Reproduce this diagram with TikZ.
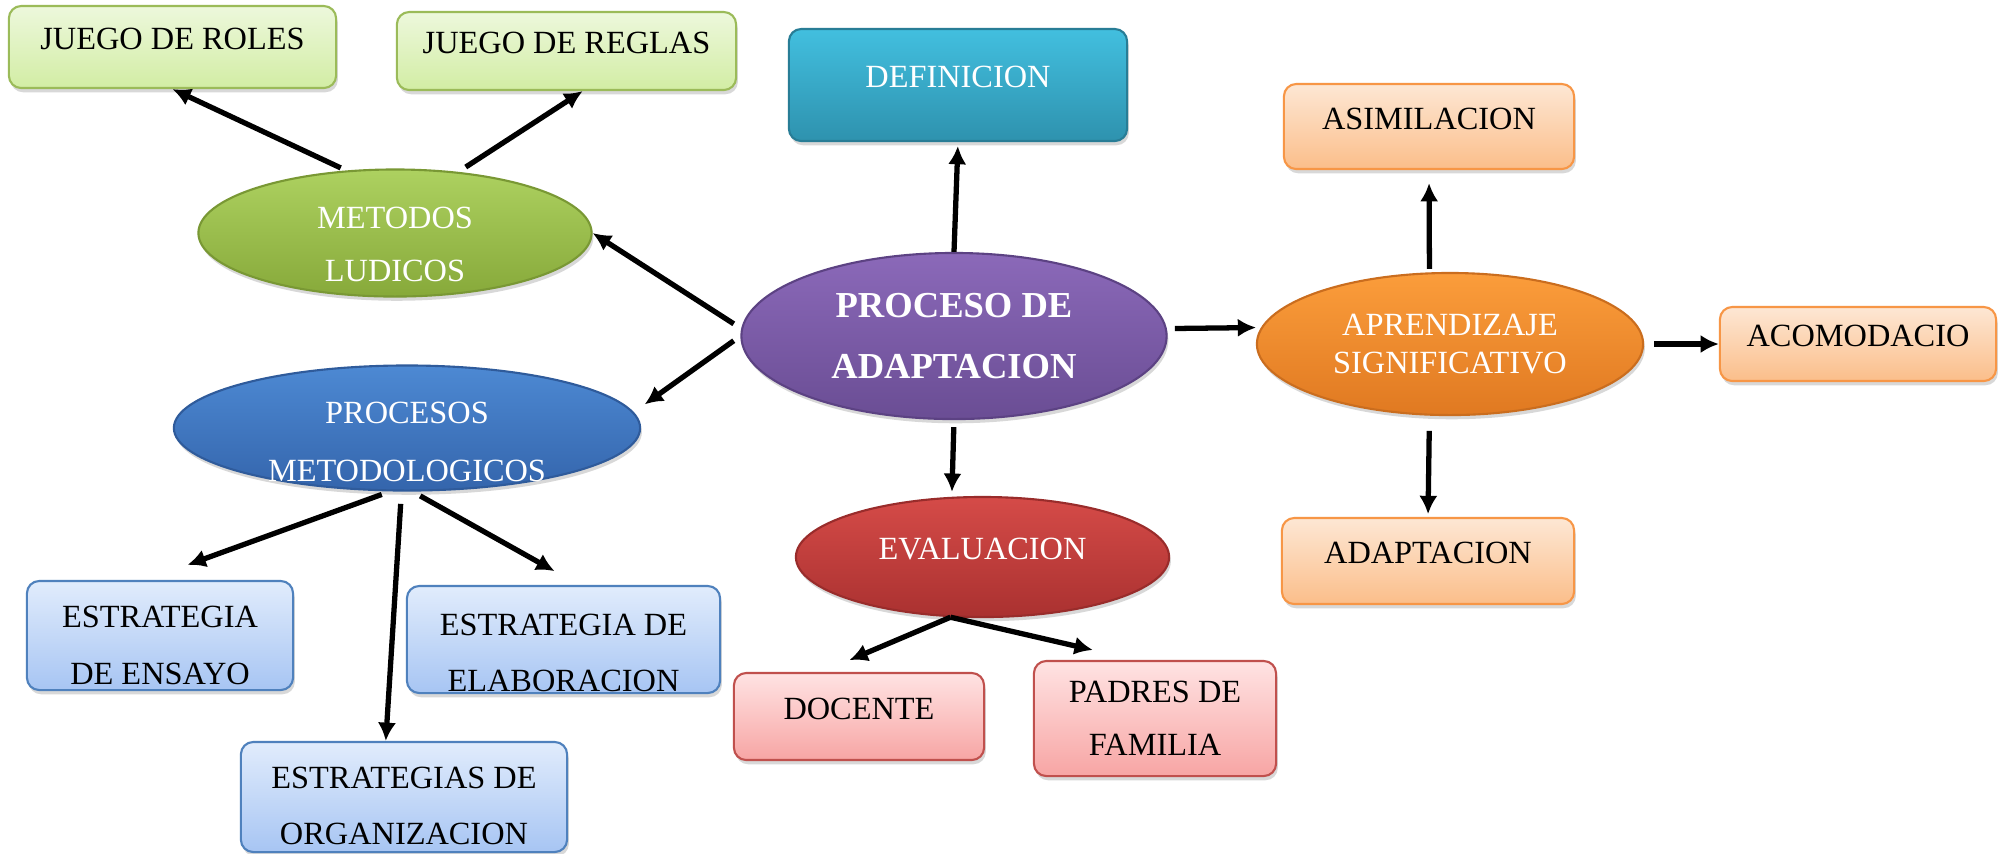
\documentclass[tikz,border=0pt]{standalone}
\usepackage{fontspec}
\setmainfont{Liberation Serif}
\usetikzlibrary{shapes.geometric,shadows,arrows.meta}

\definecolor{verdeA}{HTML}{EDF8DC}
\definecolor{verdeB}{HTML}{D2EDA4}
\definecolor{verdeC}{HTML}{9BBB59}
\definecolor{verdeE}{HTML}{ADD160}
\definecolor{verdeF}{HTML}{87A93A}
\definecolor{cianA}{HTML}{42BFDF}
\definecolor{cianB}{HTML}{2E92AE}
\definecolor{cianC}{HTML}{287D96}
\definecolor{moradoA}{HTML}{8B69B9}
\definecolor{moradoB}{HTML}{6A4D94}
\definecolor{moradoC}{HTML}{5C4283}
\definecolor{narA}{HTML}{FDE7D4}
\definecolor{narB}{HTML}{FBBE8A}
\definecolor{narC}{HTML}{F79646}
\definecolor{narE}{HTML}{FB9D3B}
\definecolor{narF}{HTML}{E07921}
\definecolor{azulA}{HTML}{E1ECFC}
\definecolor{azulB}{HTML}{A7C5F3}
\definecolor{azulC}{HTML}{4F81BD}
\definecolor{azulE}{HTML}{4D89D3}
\definecolor{azulF}{HTML}{3465AC}
\definecolor{rojoA}{HTML}{FFE3E3}
\definecolor{rojoB}{HTML}{F7A5A4}
\definecolor{rojoC}{HTML}{C0504D}
\definecolor{rojoE}{HTML}{D54B48}
\definecolor{rojoF}{HTML}{AA3130}

\begin{document}
\begin{tikzpicture}[x=0.01cm,y=-0.01cm,
  every node/.style={font=\fontsize{9.2}{16}\selectfont},
  caja/.style n args={3}{rectangle,rounded corners=3.5pt,draw=#3,line width=0.6pt,
    top color=#1,bottom color=#2,inner sep=0pt,align=center,
    drop shadow={opacity=0.3,shadow xshift=0.5pt,shadow yshift=-1.2pt}},
  elip/.style n args={3}{ellipse,draw=#3,line width=0.6pt,top color=#1,bottom color=#2,
    inner sep=0pt,align=center,text=white,
    drop shadow={opacity=0.3,shadow xshift=0.5pt,shadow yshift=-1.2pt}},
  una/.style={text height=6.5pt,text depth=5pt},
  flecha/.style={-{Latex[length=5.2pt,width=5.2pt]},line width=1.5pt}]
  \path[use as bounding box,fill=white] (0,0) rectangle (2006,853);

  \node[elip={moradoA}{moradoB}{moradoC},minimum width=4.25cm,minimum height=1.66cm,
    font=\bfseries\fontsize{10.4}{17.6}\selectfont] (proceso) at (954,336) {PROCESO DE\\ADAPTACION};
  \node[caja={cianA}{cianB}{cianC},una,text=white,minimum width=3.38cm,minimum height=1.12cm] (definicion) at (958,85) {DEFINICION};

  \node[elip={verdeE}{verdeF}{verdeF!90!black},minimum width=3.93cm,minimum height=1.27cm,
    inner ysep=-8pt,text height=27.4pt,font=\fontsize{9.2}{15}\selectfont] (metodos) at (395,233) {METODOS\\LUDICOS};
  \node[caja={verdeA}{verdeB}{verdeC},una,minimum width=3.27cm,minimum height=0.82cm] (roles) at (172.5,47) {JUEGO DE ROLES};
  \node[caja={verdeA}{verdeB}{verdeC},una,minimum width=3.39cm,minimum height=0.78cm] (reglas) at (566.5,51) {JUEGO DE REGLAS};

  \node[elip={azulE}{azulF}{azulF!90!black},minimum width=4.66cm,minimum height=1.25cm,
    inner ysep=-8pt,text height=30.5pt,font=\fontsize{9.2}{16.5}\selectfont] (procmet) at (407,428) {PROCESOS\\METODOLOGICOS};
  \node[caja={azulA}{azulB}{azulC},text height=27.8pt,minimum width=2.66cm,minimum height=1.09cm] (ensayo) at (160,635.5) {ESTRATEGIA\\DE ENSAYO};
  \node[caja={azulA}{azulB}{azulC},text height=29.9pt,minimum width=3.13cm,minimum height=1.07cm] (elaboracion) at (563.5,639.5) {ESTRATEGIA DE\\ELABORACION};
  \node[caja={azulA}{azulB}{azulC},text height=27.1pt,minimum width=3.26cm,minimum height=1.10cm] (organizacion) at (404,797) {ESTRATEGIAS DE\\ORGANIZACION};

  \node[elip={rojoE}{rojoF}{rojoF!90!black},una,minimum width=3.73cm,minimum height=1.20cm] (evaluacion) at (982.5,557) {EVALUACION};
  \node[caja={rojoA}{rojoB}{rojoC},una,minimum width=2.50cm,minimum height=0.87cm] (docente) at (859,716.5) {DOCENTE};
  \node[caja={rojoA}{rojoB}{rojoC},minimum width=2.42cm,minimum height=1.15cm,
    font=\fontsize{9.2}{15}\selectfont] (padres) at (1155,718.5) {PADRES DE\\FAMILIA};

  \node[elip={narE}{narF}{narF!90!black},minimum width=3.86cm,minimum height=1.42cm,
    font=\fontsize{9.2}{10.6}\selectfont] (aprendizaje) at (1450,344) {APRENDIZAJE\\SIGNIFICATIVO};
  \node[caja={narA}{narB}{narC},una,minimum width=2.90cm,minimum height=0.85cm] (asimilacion) at (1429,126.5) {ASIMILACION};
  \node[caja={narA}{narB}{narC},una,minimum width=2.76cm,minimum height=0.74cm] (acomodacio) at (1858,344) {ACOMODACIO};
  \node[caja={narA}{narB}{narC},una,minimum width=2.92cm,minimum height=0.86cm] (adaptacion) at (1428,561) {ADAPTACION};

  \draw[flecha,shorten <=1.7pt] (metodos.128) -- (roles.south);
  \draw[flecha,shorten <=2.5pt] (metodos.44) -- (reglas.-68);
  \draw[flecha,shorten <=2.5pt] (proceso.178) -- (metodos.east);
  \draw[flecha,shorten <=2.3pt,shorten >=3.8pt] (proceso.west) -- (procmet.4);
  \draw[flecha,shorten >=1.1pt] (proceso.north) -- (definicion.south);
  \draw[flecha,shorten <=2.3pt,shorten >=1.4pt] (proceso.2) -- (aprendizaje.175);
  \draw[flecha,shorten <=2pt,shorten >=1.4pt] (proceso.south) -- (evaluacion.117);
  \draw[flecha,shorten <=1pt,shorten >=3.7pt] (aprendizaje.106) -- (asimilacion.south);
  \draw[flecha,shorten <=2.8pt] (aprendizaje.east) -- (acomodacio.west);
  \draw[flecha,shorten <=4.3pt,shorten >=0.8pt] (aprendizaje.-106) -- (adaptacion.north);
  \draw[flecha,shorten <=2.5pt,shorten >=12.5pt] (procmet.255) -- (ensayo.104);
  \draw[flecha,shorten <=3.5pt] (procmet.265) -- (organizacion.108);
  \draw[flecha,shorten <=2.5pt,shorten >=8pt] (procmet.275) -- (elaboracion.74);
  \draw[flecha,shorten >=8.6pt] (evaluacion.242) -- (docente.130);
  \draw[flecha,shorten >=12.6pt] (evaluacion.242) -- (padres.108);
\end{tikzpicture}
\end{document}
